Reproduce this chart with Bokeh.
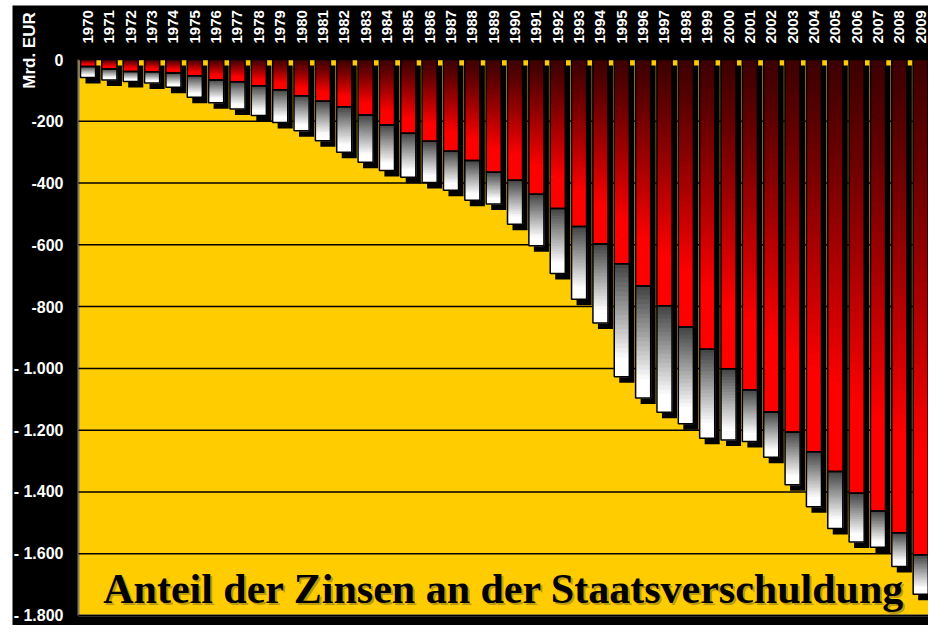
import numpy as np
from math import pi
from bokeh.plotting import figure
from bokeh.models import Range1d
from bokeh.core.properties import value
from bokeh.embed import file_html
from bokeh.resources import INLINE

# ---------------- data (Mrd. EUR) ----------------
years = [str(y) for y in range(1970, 2010)]
zinsen = [23, 31, 39, 40, 44, 53, 66, 72, 85, 98,
          117, 135, 153, 180, 212, 239, 265, 297, 327, 365,
          391, 436, 482, 541, 597, 661, 733, 797, 866, 938,
          1001, 1069, 1141, 1206, 1270, 1334, 1404, 1462, 1532, 1603]
schulden = [58, 66, 71, 76, 90, 122, 140, 160, 181, 204,
            231, 263, 300, 333, 359, 381, 398, 423, 456, 468,
            533, 603, 693, 776, 853, 1027, 1096, 1142, 1179, 1226,
            1232, 1237, 1288, 1377, 1448, 1518, 1562, 1579, 1641, 1731]
y_ticks = [0, -200, -400, -600, -800, -1000, -1200, -1400, -1600, -1800]
y_tick_labels = ["0", "-200", "-400", "-600", "-800", "- 1.000", "- 1.200",
                 "- 1.400", "- 1.600", "- 1.800"]
title_text = "Anteil der Zinsen an der Staatsverschuldung"
unit_text = "Mrd. EUR"

# ---------------- layout (pixels in the picture) ----------------
n = len(years)
Y_MIN = -1800
W, H = 928, 625
PLOT_L, PLOT_R = 78, 932             # yellow plot area
PLOT_T, PLOT_B = 59, 615
XPX = (PLOT_R - PLOT_L) / n          # px per category
YPX = (PLOT_B - PLOT_T) / -Y_MIN     # px per data unit
CENTER = 0.447                       # bar centre inside its category
HALF = 0.353                         # half bar width
SH_DX = 5 / XPX                      # shadow offset right
SH_DY = 6 / YPX                      # shadow offset down


def px_x(px):
    return (px - PLOT_L) / XPX - CENTER


def px_y(py):
    return (PLOT_T - py) / YPX


p = figure(width=W, height=H, output_backend="svg", toolbar_location=None,
           title=None, x_axis_location=None, y_axis_location=None,
           x_range=Range1d(px_x(0), px_x(W)),
           y_range=Range1d(px_y(H), px_y(0)),
           min_border=0)
p.min_border_left = p.min_border_right = p.min_border_top = p.min_border_bottom = 0
p.background_fill_color = "white"
p.border_fill_color = "white"
p.outline_line_color = None
p.grid.visible = False

x0, x1 = -CENTER, n - CENTER

# black board and yellow plot area
p.quad(left=[px_x(12)], right=[px_x(W)], top=[px_y(5)], bottom=[px_y(H)],
       fill_color="black", line_color=None)
p.quad(left=[x0], right=[x1], top=[0], bottom=[Y_MIN],
       fill_color="#FFCC00", line_color=None)
p.segment(x0=[x0, x0], y0=[Y_MIN, Y_MIN], x1=[x1, x0], y1=[Y_MIN, 0],
          line_color="#7a7a7a", line_width=2)

# horizontal grid lines
p.segment(x0=[x0] * len(y_ticks), y0=y_ticks, x1=[x1] * len(y_ticks), y1=y_ticks,
          line_color="black", line_width=1.5)

# ---------------- bars ----------------
xs = np.arange(n, dtype=float)
z = -np.array(zinsen, dtype=float)
s = -np.array(schulden, dtype=float)

p.quad(left=xs - HALF + SH_DX, right=xs + HALF + SH_DX,
       top=np.full(n, -SH_DY), bottom=s - SH_DY,
       fill_color="black", line_color=None)

NR, NW = 60, 24
bl, br, bt, bb, bc = [], [], [], [], []
for i in range(n):
    re = np.linspace(0, z[i], NR + 1)
    for k in range(NR):
        t = (k + 0.5) / NR
        v = int(round(0x3c + (0xff - 0x3c) * min(1.0, t / 0.8) ** 1.15))
        bl.append(xs[i] - HALF); br.append(xs[i] + HALF)
        bt.append(re[k]); bb.append(re[k + 1])
        bc.append("#%02x0000" % v)
    we = np.linspace(z[i], s[i], NW + 1)
    for k in range(NW):
        t = (k + 0.5) / NW
        v = int(round(0x40 + (0xff - 0x40) * min(1.0, t / 0.85)))
        bl.append(xs[i] - HALF); br.append(xs[i] + HALF)
        bt.append(we[k]); bb.append(we[k + 1])
        bc.append("#%02x%02x%02x" % (v, v, v))
p.quad(left=bl, right=br, top=bt, bottom=bb, fill_color=bc,
       line_color=bc, line_width=1)

p.quad(left=xs - HALF, right=xs + HALF, top=np.zeros(n), bottom=z,
       fill_color=None, line_color="black", line_width=1.5)
p.quad(left=xs - HALF, right=xs + HALF, top=z, bottom=s,
       fill_color=None, line_color="black", line_width=1.5)

# ---------------- texts ----------------
sans = value("Liberation Sans")
serif = value("Liberation Serif")

# value axis labels
p.text(x=[px_x(PLOT_L - 15)] * len(y_ticks), y=y_ticks, text=y_tick_labels,
       text_align="right", text_baseline="middle", text_font=sans,
       text_font_style="bold", text_font_size="16px", text_color="white")

# year labels (vertical, above the bars)
p.text(x=xs, y=[px_y(PLOT_T - 16)] * n, text=years, angle=pi / 2,
       text_align="left", text_baseline="middle", text_font=sans,
       text_font_style="bold", text_font_size="15px", text_color="white")

# unit label
p.text(x=[px_x(29)], y=[px_y(50)], text=[unit_text], angle=pi / 2,
       text_align="center", text_baseline="middle", text_font=sans,
       text_font_style="bold", text_font_size="17px", text_color="white")

# chart title inside the plot area
tx, ty = px_x(503.5), px_y(PLOT_B - 27)
p.text(x=[tx], y=[ty], x_offset=2, y_offset=2, text=[title_text],
       text_align="center", text_baseline="middle", text_font=serif,
       text_font_style="bold", text_font_size="42px", text_color="#6b5a20",
       text_alpha=0.45)
p.text(x=[tx], y=[ty], text=[title_text],
       text_align="center", text_baseline="middle", text_font=serif,
       text_font_style="bold", text_font_size="42px", text_color="black")

open("out.html", "w").write(file_html(p, INLINE))
